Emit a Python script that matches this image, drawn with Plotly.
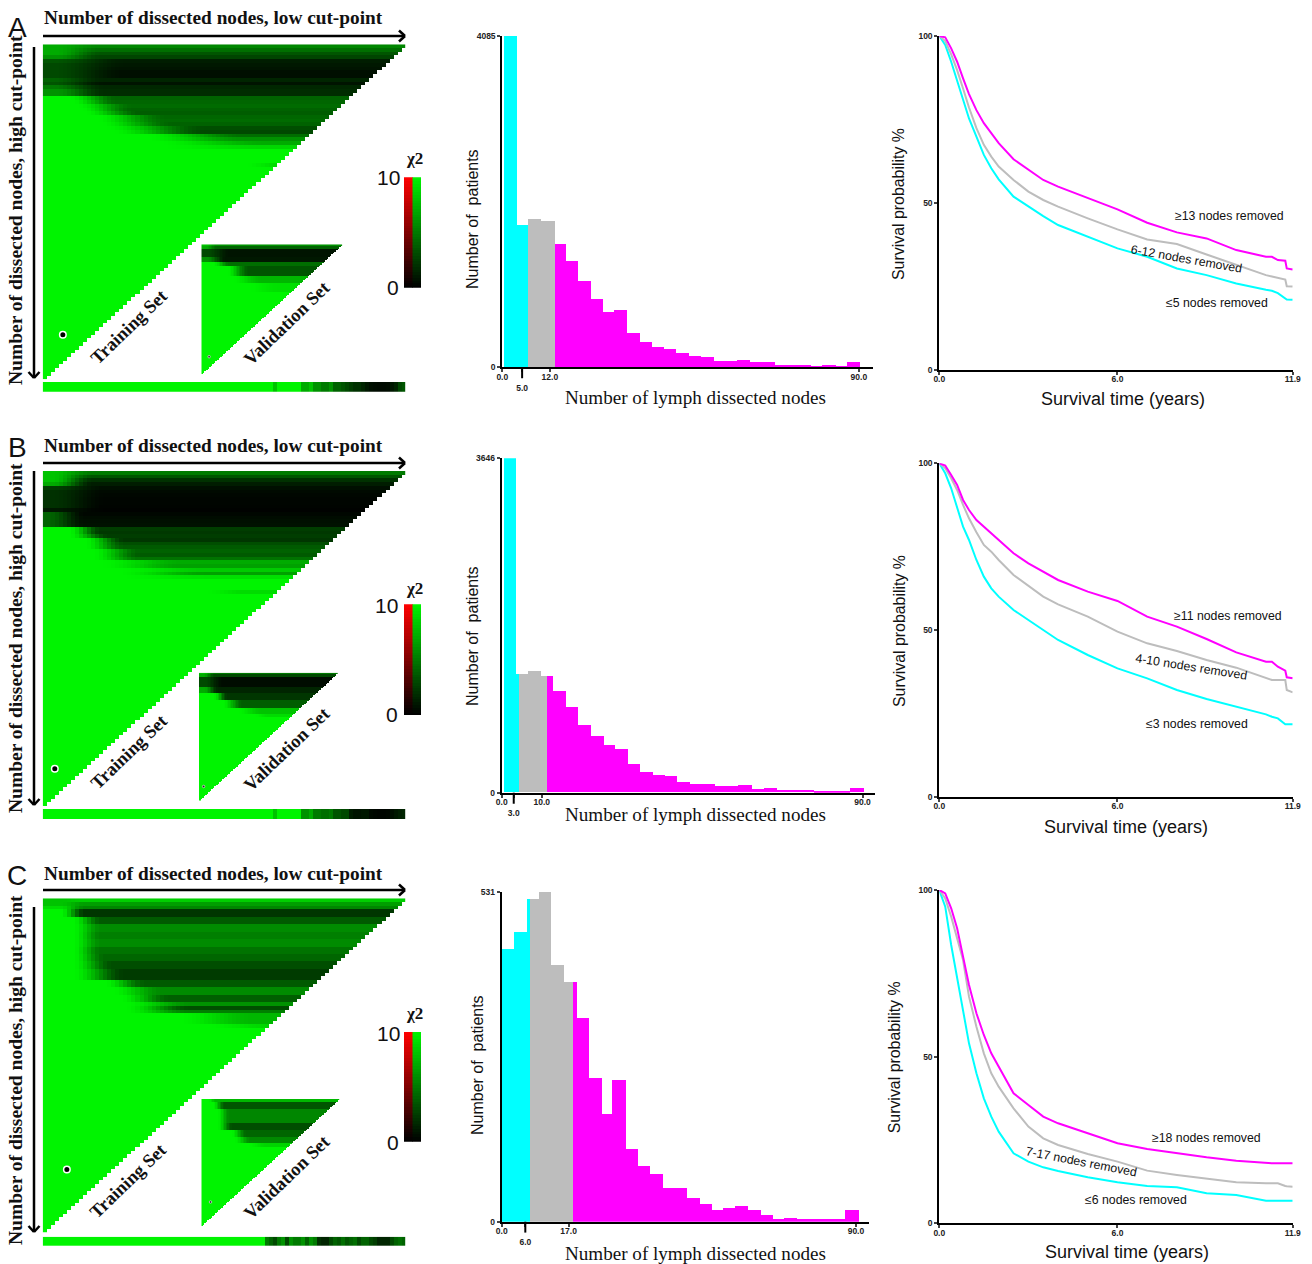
import numpy as np
import plotly.graph_objects as go

W, H = 1312, 1264
BLACK_GREEN = [[0, "#000000"], [1, "#00f400"]]
BLACK_RED = [[0, "#000000"], [1, "#ff0000"]]
CYAN, GREY, MAGENTA = "#00ffff", "#bdbdbd", "#ff00ff"

# --- chi-square maps: (rows, level reached, value at left, ramp start column, ramp end column)
A_main = [(1,5.5,7,3,14),(1,4.5,7,3,14),(1,3.5,7,3,14),(1,2.8,6,3,14),(1,1.2,3.5,2,20),(1,1,3,2,20),
          (1,.8,3,2,20),(1,.6,3,2,20),(1,.6,3,2,20),(1,1.5,4,2,15),(1,.8,3.5,2,15),(1,1.6,5,2,15),
          (1,1.8,6,3,15),(1,1.8,6,3,15),(1,4,10,6,18),(1,4.2,10,7,18),(1,4.4,10,8,22),(1,4,10,9,22),
          (1,3.8,10,10,24),(1,4.2,10,13,30),(1,4.4,10,13,30),(1,4,10,14,32),(1,3.2,10,15,40),
          (1,3,10,17,40),(1,4.5,10,25,50),(1,6,10,25,50),(1,7,10,28,55),(1,8.8,10,28,55),
          (4,10,10,0,1),(1,9,10,50,58)]
B_main = [(1,5,8,2,12),(1,3.5,8,2,12),(1,2,8,2,12),(1,1.2,7,2,12),(1,.6,2.5,2,15),(1,.4,2,2,15),
          (1,.3,2,2,15),(1,.2,2,2,15),(1,.2,2,2,15),(1,.15,2,2,15),(1,.1,1,2,15),(1,.3,4,1,10),
          (1,.5,4,1,10),(1,.6,4,1,10),(1,.7,4,1,10),(1,2.5,10,6,14),(1,2.3,10,6,14),(1,2.5,10,6,16),
          (1,2.2,10,10,20),(1,3.2,10,10,20),(1,3.7,10,10,20),(1,4,10,12,24),(1,3.7,10,12,24),
          (1,4.7,10,12,24),(1,7,10,14,34),(1,6.6,10,14,34),(1,8.3,10,18,40),(1,6.6,10,18,40),(1,9.2,10,18,40),
          (3,10,10,0,1),(1,9,10,40,50)]
C_main = [(1,8.5,8,4,10),(1,6.5,8,4,10),(1,5.5,9,4,10),(2,2.2,10,4,10),(2,3.7,10,7,14),(2,5.7,10,7,14),
          (2,5.2,10,7,14),(2,5.7,10,7,14),(2,4.7,10,7,14),(2,4.2,10,7,15),(2,3.2,10,7,17),(3,2.4,10,7,20),
          (2,3.7,10,15,25),(2,5.7,10,17,29),(2,3.9,10,19,31),(1,6,10,20,36),(1,3.2,10,20,36),(1,5.2,10,20,36),
          (3,7.5,10,33,52),(1,8.7,10,40,57)]
A_inset = [(1,6,8,2,10),(2,4,7,2,10),(6,.8,3,3,18),(3,1,6,3,15),(3,4.5,10,7,18),(7,3.5,10,16,30),
           (5,7.5,10,20,38),(6,9.2,10,30,48)]
B_inset = [(1,5,8,2,10),(2,3,7,2,10),(7,.5,3,3,15),(4,1.5,7,3,12),(5,2.2,10,9,18),(6,3.8,10,15,28),
           (4,8,10,25,40),(2,9,10,35,45)]
C_inset = [(2,7.5,10,4,9),(5,3.5,10,7,15),(10,5.5,10,10,18),(5,3.2,10,10,20),(5,4.2,10,19,29),(4,5.6,10,21,32),
           (3,8.7,10,30,42)]
A_strip = [10]*57 + [8] + [10]*6 + [7,7,8,6,6,5,5,6,4,4,3.5,3,2.5,2,2,1.5,1,.6,.5,.4,.4,.5,1,1.5,3,3.5]
B_strip = [10]*57 + [8] + [10]*6 + [6,6,7,5,5,4.5,4.5,5,3.5,3.5,3,3,1.2,.8,.8,1,1,.4,.3,.2,.2,.3,.6,1,1.3,1.5]
C_strip = [10]*55 + [5,4,3,5,6,3,6,5,5,6,4,6,5,2,1.5,1.5,3,4,3.5,4.5,3.5,4,4.5,3,4,4,3,2.5,1.5,1.5,1.5,3,4,4.5,4]
A_cut, B_cut, C_cut = (5, 12), (3, 10), (6, 17)

# --- histograms: bin edges, counts, number of cyan and grey bars
A_edges = [.4,3.8,6.6,9.9,13.4,16.1,19.2,22.4,25.5,28.2,31.6,34.8,37.9,41,44,47.2,50.3,53.4,56.6,59.2,62.6,65.8,68.8,72,75,78,80.9,84.3,87.1,90.4]
A_counts = [4085,1755,1829,1808,1525,1315,1068,842,686,711,427,312,255,222,173,140,127,82,82,95,62,62,29,29,29,16,29,16,62]
B_edges = [.4,3.6,4.2,6.5,9.8,11.1,12.6,15.9,19,22.2,25.4,28.3,31.4,34.5,37.7,40.7,43.7,46.9,53.2,58.9,62.3,65.3,68.7,77.7,86.9,90.3]
B_counts = [3646,1290,1290,1320,1272,1272,1101,927,738,611,513,476,309,222,185,174,113,95,65,76,33,44,22,11,44]
C_edges = [0,3.1,6.4,7,9.3,12.5,15.7,18,19.1,22.1,25.3,28,31.4,34.5,37.7,40.9,43.6,47,50.2,53.3,56.1,59.3,62.5,65.7,68.9,71.6,75,87.2,90.6]
C_counts = [440,467,520,520,531,414,386,386,328,232,173,229,117,90,78,54,55,39,29,19,23,25,19,12,5,7,5,19]

# --- survival curves
T = [0,.2,.4,.6,.8,1,1.25,1.5,1.75,2,2.5,3,3.5,4,5,6,7,8,9,10,11,11.2,11.4,11.65,11.7,11.9]
A_high = [100,99.6,96.3,92.3,87.3,82.6,77.8,73.9,70.9,67.9,63.1,59.9,56.9,54.9,51.4,48.1,44.1,41.2,39.4,35.9,33.9,33.9,32.9,32.7,30.4,30.1]
A_mid = [100,98.5,94.5,89.8,84.3,78.6,72.4,67.4,63.9,60.9,56.9,53.4,50.9,48.9,45.4,42.1,39.1,37.7,34.6,31.4,28.4,28,27.5,27.1,25.1,25]
A_low = [100,97.3,92.3,86.8,80.8,75.3,69.9,64.4,60.4,57.1,51.9,48.9,46.1,43.4,39.9,36.4,33.9,30.4,28.4,25.9,24,23.7,23,21.2,21.1,21]
B_high = [100,99.3,96.5,93.5,89,86,83,81,79,77,73,70,67.5,65,61.5,58.7,54,51,47.3,43.3,40.5,40.5,39,37.8,35.8,35.5]
B_mid = [100,98.5,95.5,92,87.5,83.5,79.3,75.5,73.5,71,66.5,63.3,60,57.7,54,49.5,46,43.7,41,38.7,35.5,35,35,35,32,31.3]
B_low = [100,97,92.5,86.5,81,77,71,66,62.5,60,56,53,50,47,42.5,38.5,35.5,32,29.3,27,24.7,24,23.5,21.7,21.7,21.7]
C_high = [100,99,94.5,88.5,80,71.5,63,56.5,51,47,39,35.5,32,30,27,24,22.3,21,19.8,18.8,18,18,18,18,18,18]
C_mid = [100,97.5,92,85.5,79,68,59,51,45,41,34.5,29,25.5,23.5,20.8,18.5,15.8,14.5,13.5,12.3,12,12,12,11.2,11.1,11]
C_low = [100,95,83.5,74,64,54,45,37.5,32,27.5,21,18.5,16.8,15.7,13.8,12.3,11.2,10.8,9,8.5,6.8,6.8,6.8,6.8,6.8,6.8]

LEGEND_LEVELS = [i / 4 for i in range(41)]

PANELS = [
    dict(letter="A", main=A_main, inset=A_inset, strip=A_strip, cut=A_cut, edges=A_edges, counts=A_counts, ncy=2, ngr=2,
         high=A_high, mid=A_mid, low=A_low, labels=["≥13 nodes removed", "6-12 nodes removed", "≤5 nodes removed"],
         main_box=(42.7, 405.3, 44.3, 379.3), inset_box=(201.3, 342.3, 244.3, 374), strip_box=(382, 391.7), leg_box=(177.3, 287.7),
         hist_box=(502.3, 872.7, 36, 367.3), hist_range=93.5, km_box=(36, 370), title_y=18, letter_y=27, arrow_y=36,
         varrow=(47, 378), vtitle_y=210, train=(129, 327), valid=(287, 323), chi=(414, 158), l10=(388, 178), l0=(393, 287),
         hx_y=397, hy=(472, 219), kx=(1122.7, 399), ky=(899, 204),
         pos=[(1229, 216), (1186, 259), (1217, 303)], rot=10),
    dict(letter="B", main=B_main, inset=B_inset, strip=B_strip, cut=B_cut, edges=B_edges, counts=B_counts, ncy=2, ngr=3,
         high=B_high, mid=B_mid, low=B_low, labels=["≥11 nodes removed", "4-10 nodes removed", "≤3 nodes removed"],
         main_box=(42.7, 405.3, 471, 806), inset_box=(199, 337.7, 672.7, 800.7), strip_box=(809, 819), leg_box=(604.3, 715),
         hist_box=(501.7, 875, 458.3, 792.7), hist_range=93.1, km_box=(463.3, 796.7), title_y=445, letter_y=447, arrow_y=463,
         varrow=(471, 805), vtitle_y=638, train=(129, 752), valid=(287, 749), chi=(414, 589), l10=(386, 605), l0=(392, 714),
         hx_y=814, hy=(472, 636), kx=(1125.7, 827), ky=(899, 631),
         pos=[(1227.7, 616), (1191.7, 666.7), (1196.7, 724.3)], rot=9),
    dict(letter="C", main=C_main, inset=C_inset, strip=C_strip, cut=C_cut, edges=C_edges, counts=C_counts, ncy=3, ngr=4,
         high=C_high, mid=C_mid, low=C_low, labels=["≥18 nodes removed", "7-17 nodes removed", "≤6 nodes removed"],
         main_box=(42.7, 405.3, 898.3, 1232.7), inset_box=(201.3, 339.7, 1099, 1226), strip_box=(1236.7, 1246), leg_box=(1032, 1141.7),
         hist_box=(501.7, 869.3, 891.7, 1221.7), hist_range=93.4, km_box=(890, 1223.3), title_y=873, letter_y=875, arrow_y=890,
         varrow=(907, 1232), vtitle_y=1070, train=(128, 1181), valid=(287, 1177), chi=(414, 1013), l10=(388, 1033), l0=(393, 1142),
         hx_y=1253, hy=(477, 1065), kx=(1126.7, 1252), ky=(894.3, 1057),
         pos=[(1206, 1138.3), (1081.7, 1161.7), (1136, 1200)], rot=11),
]

fig = go.Figure()
layout = dict(width=W, height=H, autosize=False, margin=dict(l=0, r=0, t=0, b=0, pad=0, autoexpand=False), paper_bgcolor="white",
              plot_bgcolor="white", showlegend=False, barmode="overlay", bargap=0)
annots, shapes = [], []
axis_count = [0]
px = lambda x: x / W
py = lambda y: 1 - y / H


def new_axes(box, xr, yr, xopts=None, yopts=None):
    axis_count[0] += 1
    n = axis_count[0]
    s = "" if n == 1 else str(n)
    base = dict(showgrid=False, zeroline=False, visible=False, fixedrange=True)
    xo = dict(base, domain=[px(box[0]), px(box[1])], range=xr, anchor="y" + s)
    xo.update(xopts or {})
    yo = dict(base, domain=[py(box[3]), py(box[2])], range=yr, anchor="x" + s)
    yo.update(yopts or {})
    layout["xaxis" + s] = xo
    layout["yaxis" + s] = yo
    return "x" + s, "y" + s


def tri_matrix(bands):
    rows = []
    for n, level, left, onset, end in bands:
        rows += [(level, left, onset, end)] * n
    rows += [(10, 10, 0, 1)] * (90 - len(rows))
    cols = np.arange(90)
    z = []
    for h in range(1, 91):                # high cut-point h sits on row 90-h from the top
        level, left, onset, end = rows[90 - h]
        s = np.clip((cols - onset) / (end - onset), 0, 1)
        s = s * s * (3 - 2 * s)
        vals = left + (level - left) * s
        z.append([float(v) if j < h else None for j, v in enumerate(vals)])
    return z


def text(x, y, t, size, family="Liberation Sans", angle=0, color="#111111", bold=False):
    annots.append(dict(x=px(x), y=py(y), xref="paper", yref="paper", text=f"<b>{t}</b>" if bold else t,
                       showarrow=False, xanchor="center", yanchor="middle", textangle=angle,
                       font=dict(family=family, size=size, color=color)))


def arrow(x0, y0, x1, y1):
    ln = dict(color="black", width=2.5)
    shapes.append(dict(type="line", xref="paper", yref="paper", x0=px(x0), x1=px(x1), y0=py(y0), y1=py(y1), line=ln))
    if y0 == y1:
        pts = [(x1 - 6, y1 - 5.5), (x1, y1), (x1 - 6, y1 + 5.5)]
    else:
        pts = [(x1 - 5.5, y1 - 6), (x1, y1), (x1 + 5.5, y1 - 6)]
    for a, b in zip(pts, pts[1:]):
        shapes.append(dict(type="line", xref="paper", yref="paper", x0=px(a[0]), x1=px(b[0]), y0=py(a[1]), y1=py(b[1]), line=ln))


SERIF = "Liberation Serif"
CELLS = [i + .5 for i in range(90)]
for P in PANELS:
    # main triangle
    mb = P["main_box"]
    xa, ya = new_axes(mb, [0, 90], [0, 90])
    fig.add_trace(go.Heatmap(z=tri_matrix(P["main"]), x=CELLS, y=CELLS, zmin=0, zmax=10, colorscale=BLACK_GREEN,
                             showscale=False, xaxis=xa, yaxis=ya, hoverinfo="skip"))
    fig.add_trace(go.Scatter(x=[P["cut"][0]], y=[P["cut"][1]], mode="markers", xaxis=xa, yaxis=ya, hoverinfo="skip",
                             marker=dict(size=6.5, color="black", line=dict(color="white", width=1.5))))
    # validation inset
    xa, ya = new_axes(P["inset_box"], [0, 90], [0, 90])
    fig.add_trace(go.Heatmap(z=tri_matrix(P["inset"]), x=CELLS, y=CELLS, zmin=0, zmax=10, colorscale=BLACK_GREEN,
                             showscale=False, xaxis=xa, yaxis=ya, hoverinfo="skip"))
    fig.add_trace(go.Scatter(x=[P["cut"][0]], y=[P["cut"][1]], mode="markers", xaxis=xa, yaxis=ya, hoverinfo="skip",
                             marker=dict(size=2.5, color="#302030", line=dict(color="#e0e0e0", width=.7))))
    # strip
    xa, ya = new_axes((mb[0], mb[1], P["strip_box"][0], P["strip_box"][1]), [0, 90], [0, 1])
    fig.add_trace(go.Heatmap(z=[P["strip"]], x=CELLS, y=[.5], zmin=0, zmax=10, colorscale=BLACK_GREEN, showscale=False,
                             xaxis=xa, yaxis=ya, hoverinfo="skip"))
    # colour key
    xa, ya = new_axes((404, 421, P["leg_box"][0], P["leg_box"][1]), [0, 2], [0, 10])
    for col, cs in ((.5, BLACK_RED), (1.5, BLACK_GREEN)):
        fig.add_trace(go.Heatmap(z=[[v] for v in LEGEND_LEVELS], x=[col], y=LEGEND_LEVELS, zmin=0, zmax=10, colorscale=cs,
                                 showscale=False, xaxis=xa, yaxis=ya, hoverinfo="skip", xgap=0, ygap=0))
    # histogram
    hb = P["hist_box"]
    tick_font = dict(family="Liberation Sans", size=8.5, color="#222222")
    low, high = P["cut"]
    xa, ya = new_axes(hb, [0, P["hist_range"]], [0, max(P["counts"])],
                      dict(visible=True, showline=True, linecolor="black", linewidth=2, ticks="outside", ticklen=3, tickwidth=1.5,
                           tickvals=[0, low, high, 90], ticktext=["<b>0.0</b>", f"<br><b>{low}.0</b>", f"<b>{high}.0</b>", "<b>90.0</b>"],
                           tickfont=tick_font, tickangle=0, ticklabelstandoff=-3),
                      dict(visible=True, showline=True, linecolor="black", linewidth=2, ticks="outside", ticklen=3, tickwidth=1.5,
                           tickvals=[0, max(P["counts"])], ticktext=["<b>0</b>", f"<b>{max(P['counts'])}</b>"], tickfont=tick_font))
    e = P["edges"]
    colors = [CYAN] * P["ncy"] + [GREY] * P["ngr"]
    colors += [MAGENTA] * (len(P["counts"]) - len(colors))
    fig.add_trace(go.Bar(x=[(a + b) / 2 for a, b in zip(e, e[1:])], width=[b - a for a, b in zip(e, e[1:])], y=P["counts"],
                         marker=dict(color=colors, line=dict(width=0)), xaxis=xa, yaxis=ya, hoverinfo="skip"))
    shapes.append(dict(type="line", xref=xa, yref=ya + " domain", x0=low, x1=low, y0=0, y1=-.033,
                       line=dict(color="black", width=2)))
    # survival
    kb = P["km_box"]
    xa, ya = new_axes((939.3, 1292.7, kb[0], kb[1]), [0, 11.9], [0, 100],
                      dict(visible=True, showline=True, linecolor="black", linewidth=2, ticks="outside", ticklen=3, tickwidth=1.5,
                           tickvals=[0, 6, 11.9], ticktext=["<b>0.0</b>", "<b>6.0</b>", "<b>11.9</b>"], tickfont=tick_font, tickangle=0,
                           ticklabelstandoff=-3),
                      dict(visible=True, showline=True, linecolor="black", linewidth=2, ticks="outside", ticklen=3, tickwidth=1.5,
                           tickvals=[0, 50, 100], ticktext=["<b>0</b>", "<b>50</b>", "<b>100</b>"], tickfont=tick_font))
    for series, col in ((P["low"], CYAN), (P["mid"], GREY), (P["high"], MAGENTA)):
        fig.add_trace(go.Scatter(x=T, y=series, mode="lines", line=dict(color=col, width=2), xaxis=xa, yaxis=ya,
                                 hoverinfo="skip", cliponaxis=False))
    # texts
    text(213.5, P["title_y"], "Number of dissected nodes, low cut-point", 19.3, SERIF, bold=True)
    text(15, P["vtitle_y"], "Number of dissected nodes, high cut-point", 19.5, SERIF, angle=-90, bold=True)
    text(17, P["letter_y"], P["letter"], 28)
    text(*P["train"], "Training Set", 18.5, SERIF, angle=-44, bold=True)
    text(*P["valid"], "Validation Set", 18.5, SERIF, angle=-44, bold=True)
    text(*P["chi"], "χ2", 17, SERIF, bold=True)
    text(*P["l10"], "10", 21)
    text(*P["l0"], "0", 21)
    text(695, P["hx_y"], "Number of lymph dissected nodes", 19.1, SERIF)
    text(*P["hy"], "Number of  patients", 16, angle=-90)
    text(*P["kx"], "Survival time (years)", 18)
    text(*P["ky"], "Survival probability %", 15.9, angle=-90)
    for i, lab in enumerate(P["labels"]):
        text(*P["pos"][i], lab, 12.3, angle=P["rot"] if i == 1 else 0)
    arrow(43, P["arrow_y"], 405, P["arrow_y"])
    arrow(34, P["varrow"][0], 34, P["varrow"][1])

layout["annotations"] = annots
layout["shapes"] = shapes
fig.update_layout(**layout)
fig.write_html("out.html", post_script="document.body.style.margin='0';", config=dict(displayModeBar=False))
